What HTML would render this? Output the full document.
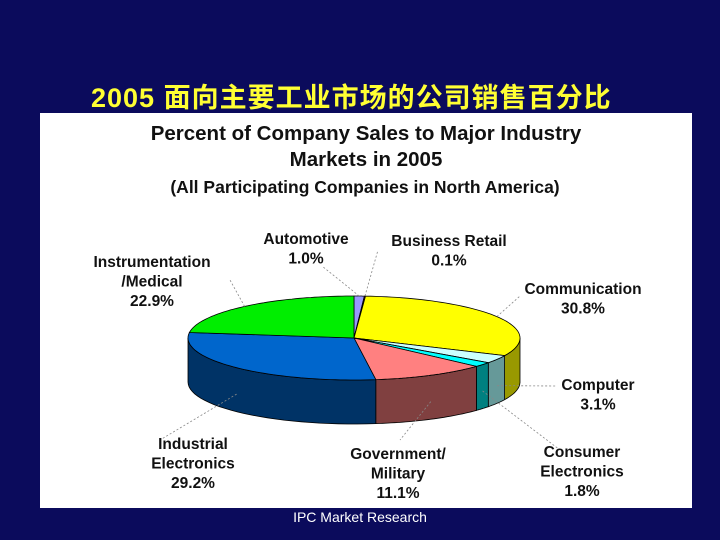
<!DOCTYPE html>
<html><head><meta charset="utf-8"><style>
html,body{margin:0;padding:0;}
body{width:720px;height:540px;background:#0b0b5c;position:relative;overflow:hidden;font-family:"Liberation Sans","Noto Sans CJK SC",sans-serif;}
#title{position:absolute;left:91px;top:82px;white-space:nowrap;color:#ffff33;font-weight:bold;font-size:27px;line-height:32px;letter-spacing:1px;}
#panel{position:absolute;left:40px;top:113px;width:652px;height:395px;background:#fff;}
#footer{position:absolute;left:0;width:720px;top:509px;text-align:center;color:#fff;font-size:14px;}
</style></head><body>
<div id="panel"></div>
<div id="title">2005 面向主要工业市场的公司销售百分比</div>
<svg id="chart" width="720" height="540" style="position:absolute;left:0;top:0"></svg>
<div id="footer">IPC Market Research</div>
<script>
const categories=["Automotive","Business Retail","Communication","Computer","Consumer Electronics","Government/ Military","Industrial Electronics","Instrumentation /Medical"];
const values=[1.0,0.1,30.8,3.1,1.8,11.1,29.2,22.9];
const valueLabels=["1.0%","0.1%","30.8%","3.1%","1.8%","11.1%","29.2%","22.9%"];
const topColors=["#9999ff","#993333","#ffff00","#ccffff","#00ffff","#ff8080","#0066cc","#00ee00"];
const sideColors=["#666699","#661111","#999900","#669999","#008080","#804040","#003366","#009900"];
const NS="http://www.w3.org/2000/svg";
const svg=document.getElementById('chart');
const cx=354,cy=338,rx=166,ry=42,depth=44;
function pt(t,dy){return [cx+rx*Math.sin(t),cy-ry*Math.cos(t)+(dy||0)];}
function mk(tag,attrs){const e=document.createElementNS(NS,tag);for(const k in attrs)e.setAttribute(k,attrs[k]);svg.appendChild(e);return e;}
function txt(x,y,s,size,weight){const e=mk('text',{x:x,y:y,'text-anchor':'middle','font-size':size,'font-weight':weight||'bold',fill:'#111','font-family':'Liberation Sans, sans-serif'});e.textContent=s;return e;}
let h=txt(366,140,"Percent of Company Sales to Major Industry",20.5);

h=txt(366,166,"Markets in 2005",20.5);

h=txt(365,193,"(All Participating Companies in North America)",17.5);

const total=values.reduce((a,b)=>a+b,0);
const angles=[];let acc=0;
for(let i=0;i<values.length;i++){const a0=acc/total*2*Math.PI;acc+=values[i];angles.push([a0,acc/total*2*Math.PI]);}
function arcPts(a,b,dy,n){const r=[];for(let k=0;k<=n;k++){r.push(pt(a+(b-a)*k/n,dy));}return r;}
for(let i=0;i<values.length;i++){
  const a=Math.max(angles[i][0],Math.PI/2),b=Math.min(angles[i][1],1.5*Math.PI);
  if(b<=a)continue;
  const top=arcPts(a,b,0,30),bot=arcPts(b,a,depth,30);
  const d="M"+top.concat(bot).map(p=>p[0].toFixed(1)+","+p[1].toFixed(1)).join("L")+"Z";
  const e=mk('path',{d:d,fill:sideColors[i],stroke:'#000','stroke-width':0.8});
  
  
}
for(let i=0;i<values.length;i++){
  const pts=arcPts(angles[i][0],angles[i][1],0,60);
  const d="M"+cx+","+cy+"L"+pts.map(p=>p[0].toFixed(1)+","+p[1].toFixed(1)).join("L")+"Z";
  const e=mk('path',{d:d,fill:topColors[i],stroke:'#000','stroke-width':0.8});
  
  
}
const labelLines=[["Automotive"],["Business Retail"],["Communication"],["Computer"],["Consumer","Electronics"],["Government/","Military"],["Industrial","Electronics"],["Instrumentation","/Medical"]];
const labelPos=[[306,244],[449,246],[583,294],[598,390],[582,457],[398,459],[193,449],[152,267]];
const leaderEnd=[[322,266],[378,250],[520,296],[556,386],[560,450],[400,440],[160,440],[230,280]];
for(let i=0;i<values.length;i++){
  const mid=(angles[i][0]+angles[i][1])/2;
  const p=pt(mid,Math.cos(mid)<0?depth*0.6:0);
  const l=mk('line',{x1:p[0],y1:p[1],x2:leaderEnd[i][0],y2:leaderEnd[i][1],stroke:'#888','stroke-width':0.8,'stroke-dasharray':'2,2'});
  
  
  const lines=labelLines[i];
  lines.forEach((s,k)=>{const t=txt(labelPos[i][0],labelPos[i][1]+k*19.5,s,15.5);
    
    });
  const v=txt(labelPos[i][0],labelPos[i][1]+lines.length*19.5,valueLabels[i],15.5);
  
  
}
</script>
</body></html>
